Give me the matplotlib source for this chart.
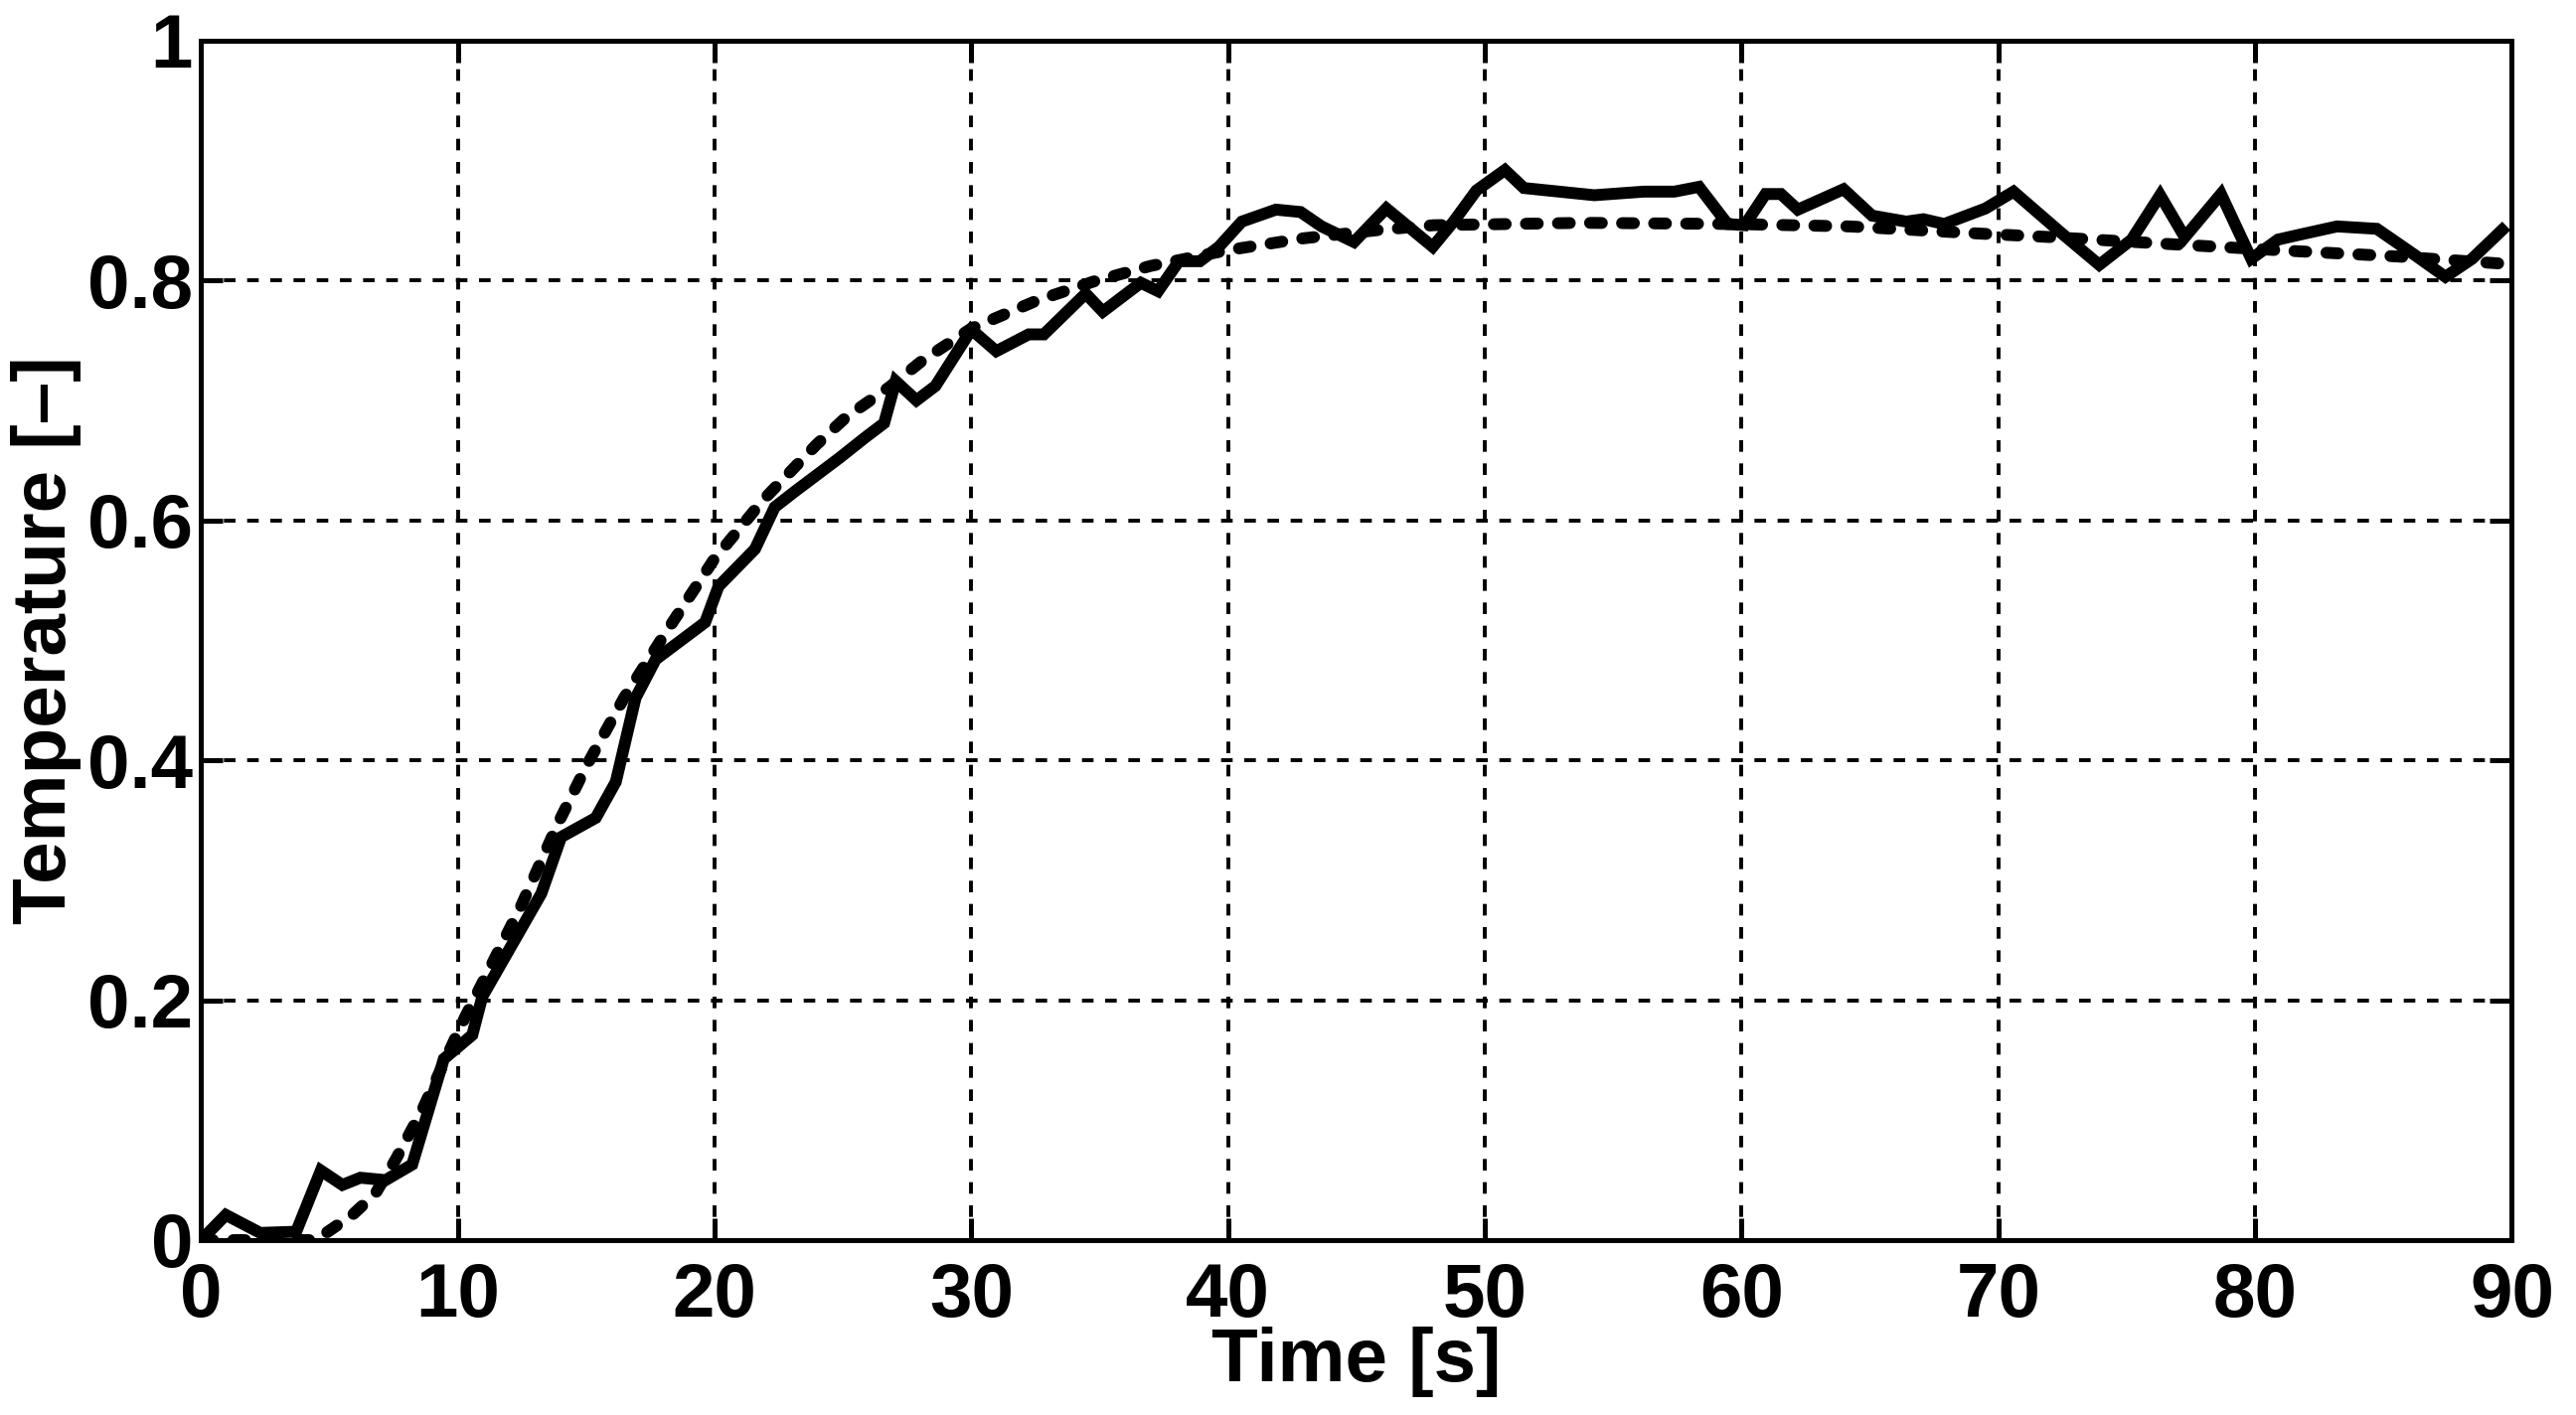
import matplotlib
matplotlib.use("Agg")
import matplotlib.pyplot as plt

# Measured data (solid line)
time_meas = [0.0, 0.96, 2.3, 3.7, 4.66, 5.5, 6.2, 7.18, 8.22, 9.45, 10.56, 10.95,
             13.25, 14.02, 15.37, 16.15, 16.92, 17.7, 19.63, 20.15, 21.57, 22.34,
             23.12, 24.86, 25.86, 26.6, 27.05, 27.86, 28.6, 30.0, 30.97, 32.23,
             32.82, 34.45, 35.12, 36.6, 37.27, 38.08, 38.9, 39.64, 40.53, 41.86,
             42.82, 43.64, 44.9, 46.16, 47.97, 48.78, 49.67, 50.78, 51.52, 54.26,
             56.19, 57.38, 58.34, 59.45, 60.12, 60.93, 61.53, 62.19, 63.97, 65.08,
             66.41, 67.08, 67.89, 69.5, 70.59, 72.37, 73.93, 75.19, 76.3, 77.26,
             78.67, 79.85, 80.89, 81.71, 83.19, 84.74, 86.23, 87.41, 88.45, 89.62]
temp_meas = [0.0, 0.021, 0.006, 0.007, 0.058, 0.046, 0.052, 0.050, 0.063, 0.151, 0.171, 0.203,
             0.289, 0.336, 0.352, 0.382, 0.452, 0.484, 0.515, 0.545, 0.576, 0.611,
             0.624, 0.652, 0.669, 0.681, 0.716, 0.700, 0.712, 0.759, 0.741, 0.755,
             0.755, 0.789, 0.774, 0.798, 0.791, 0.816, 0.816, 0.828, 0.849, 0.859,
             0.857, 0.845, 0.832, 0.860, 0.828, 0.849, 0.875, 0.892, 0.877, 0.871,
             0.874, 0.874, 0.878, 0.847, 0.846, 0.872, 0.872, 0.859, 0.876, 0.854,
             0.849, 0.851, 0.847, 0.860, 0.874, 0.841, 0.813, 0.834, 0.871, 0.836,
             0.872, 0.818, 0.834, 0.838, 0.845, 0.843, 0.821, 0.803, 0.818, 0.842]

# Model fit (dashed line)
time_fit = [0.0, 4.4, 4.73, 5.89, 6.79, 7.57, 8.6, 9.37, 10.28, 11.18, 12.47, 13.89,
            15.05, 16.47, 18.02, 19.96, 21.89, 23.96, 25.12, 26.8, 28.08, 30.0,
            32.53, 34.75, 36.97, 39.93, 42.9, 45.86, 48.0, 53.8, 59.75, 64.2,
            69.3, 72.15, 76.9, 81.04, 85.5, 89.6]
temp_fit = [0.0, 0.0, 0.004, 0.021, 0.039, 0.067, 0.108, 0.144, 0.186, 0.224, 0.279, 0.347,
            0.397, 0.452, 0.504, 0.567, 0.617, 0.663, 0.686, 0.711, 0.733, 0.760,
            0.783, 0.799, 0.812, 0.825, 0.835, 0.842, 0.846, 0.848, 0.847, 0.845,
            0.839, 0.836, 0.830, 0.825, 0.820, 0.814]

xticks = [0, 10, 20, 30, 40, 50, 60, 70, 80, 90]
xticklabels = ["0", "10", "20", "30", "40", "50", "60", "70", "80", "90"]
yticks = [0, 0.2, 0.4, 0.6, 0.8, 1.0]
yticklabels = ["0", "0.2", "0.4", "0.6", "0.8", "1"]

plt.rcParams['font.family'] = ['Liberation Sans', 'DejaVu Sans']
plt.rcParams['font.weight'] = 'bold'

fig = plt.figure(figsize=(12.96, 7.12), dpi=200)
ax = fig.add_axes([0.0781, 0.1236, 0.8970, 0.8478])

ax.plot(time_meas, temp_meas, color='black', lw=4.3, solid_joinstyle='miter', zorder=3)
ax.plot(time_fit, temp_fit, color='black', lw=4.3, linestyle=(0, (1.0, 1.7)),
        dash_capstyle='round', zorder=3)

ax.set_xlim(0, 90)
ax.set_ylim(0, 1)
ax.set_xticks(xticks)
ax.set_xticklabels(xticklabels)
ax.set_yticks(yticks)
ax.set_yticklabels(yticklabels)

ax.grid(True, color='black', linestyle=(0, (3, 3)), lw=1.4, zorder=1)
ax.set_axisbelow(True)

for s in ax.spines.values():
    s.set_linewidth(1.8)
    s.set_zorder(4)

ax.tick_params(axis='both', direction='in', length=8, width=1.8,
               top=True, right=True, labelsize=27.5)
ax.tick_params(axis='x', pad=8)
ax.tick_params(axis='y', pad=3)
for lab in ax.get_xticklabels() + ax.get_yticklabels():
    lab.set_fontweight('bold')

ax.set_xlabel("Time [s]", fontsize=27.5, fontweight='bold')
ax.set_ylabel("Temperature [–]", fontsize=27.5, fontweight='bold')
ax.xaxis.set_label_coords(0.5, -0.072)
ax.yaxis.set_label_coords(-0.052, 0.5)

fig.savefig("out.png", dpi=200, facecolor='white')
